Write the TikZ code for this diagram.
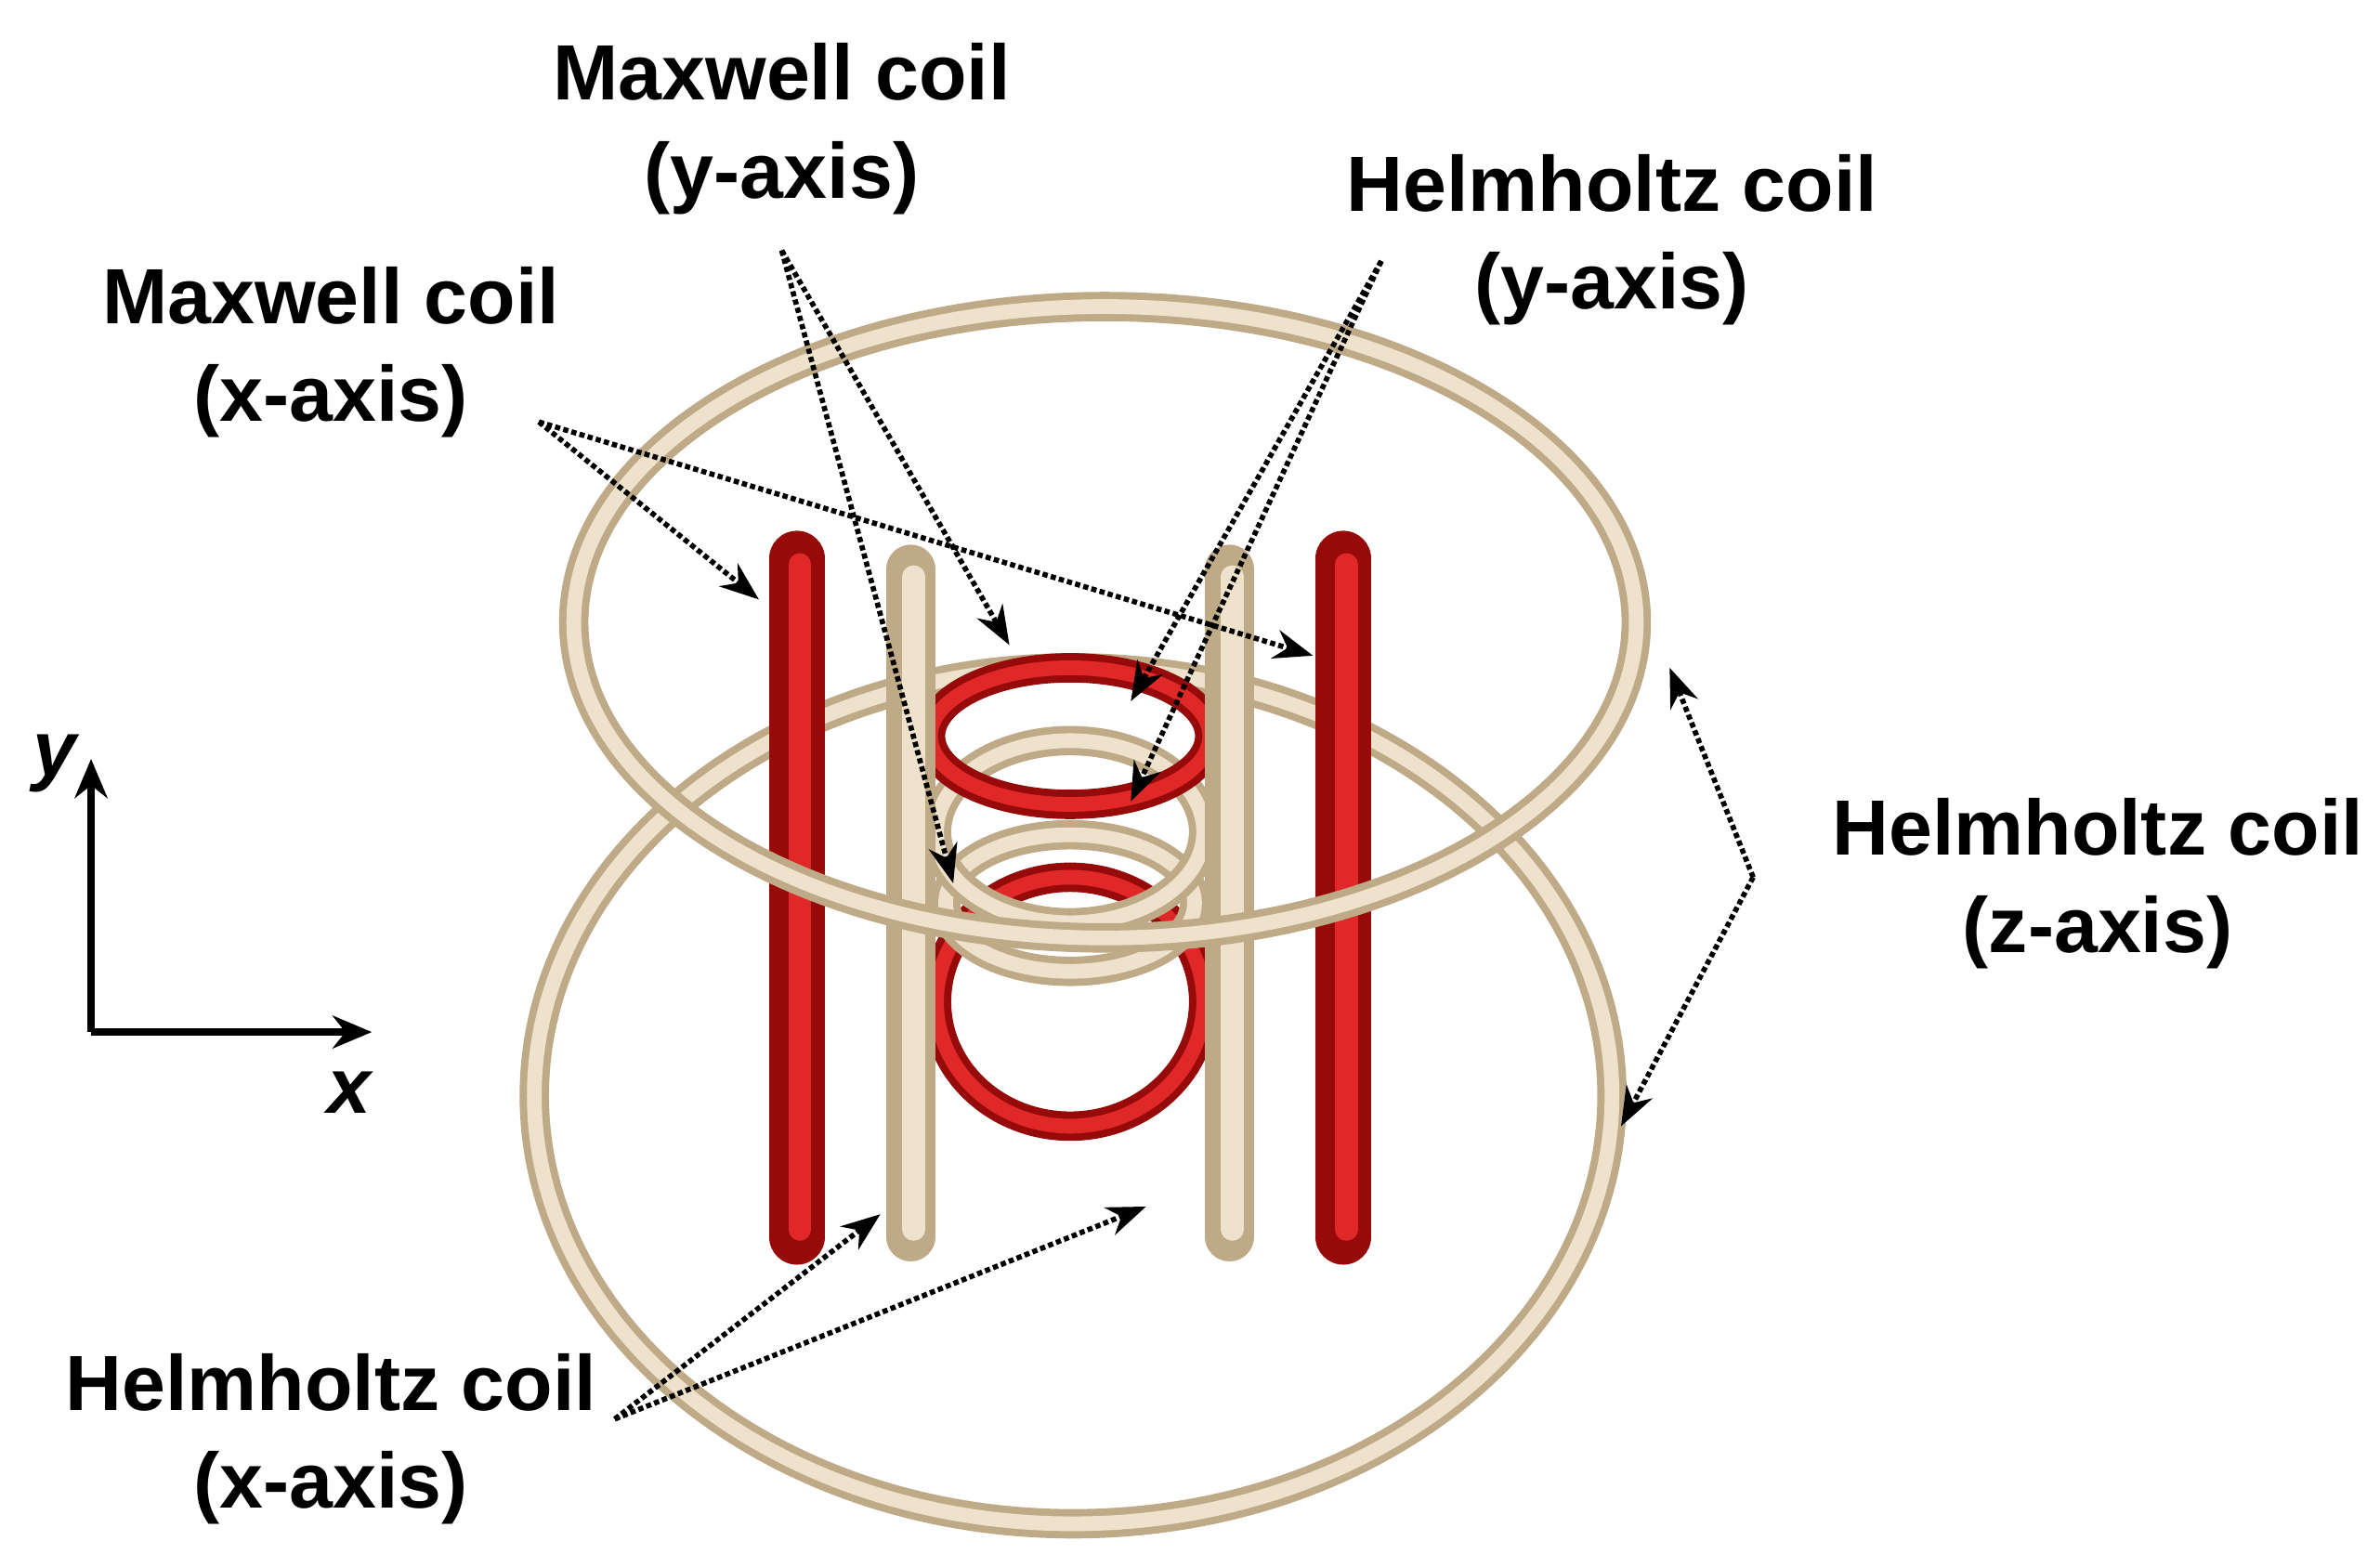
\documentclass[tikz,border=0pt]{standalone}
\usepackage{fontspec}
\setmainfont{Liberation Sans}
\usetikzlibrary{arrows.meta}
\definecolor{beigeD}{RGB}{190,170,135}
\definecolor{beigeL}{RGB}{238,226,205}
\definecolor{redD}{RGB}{150,10,10}
\definecolor{redL}{RGB}{225,40,40}
\tikzset{
 bt/.style={draw=beigeD,line width=9pt},
 bl/.style={draw=beigeL,line width=4.5pt},
 rt/.style={draw=redD,line width=9pt},
 rl/.style={draw=redL,line width=4.5pt},
 lbl/.style={font=\fontsize{24}{30}\selectfont\bfseries,align=center},
 dot/.style={densely dotted,line width=1.6pt,-{Stealth[length=12pt,width=9pt]}},
 ax/.style={line width=2.4pt,-{Stealth[length=12pt,width=10pt]}}
}
\begin{document}
\begin{tikzpicture}[x=0.01634cm,y=-0.01634cm]
\useasboundingbox (0,0) rectangle (1568,1032);
% bottom big ring
\draw[bt] (707,722) ellipse [x radius=355, y radius=282];
\draw[bl] (707,722) ellipse [x radius=355, y radius=282];
% small rings
\draw[rt] (705,660) ellipse [x radius=88, y radius=82];
\draw[rl] (705,660) ellipse [x radius=88, y radius=82];
\draw[bt] (705,595) ellipse [x radius=82, y radius=45];
\draw[bl] (705,595) ellipse [x radius=82, y radius=45];
\draw[bt] (705,548) ellipse [x radius=88, y radius=60];
\draw[bl] (705,548) ellipse [x radius=88, y radius=60];
\draw[rt] (705,485) ellipse [x radius=92, y radius=45];
\draw[rl] (705,485) ellipse [x radius=92, y radius=45];
% vertical coils
\foreach \x in {525,885}{
 \draw[redD,line width=17pt,line cap=round] (\x,368) -- (\x,815);
 \draw[redL,line width=7pt,line cap=round] (\x+2,372) -- (\x+2,810);}
\foreach \x in {600,810}{
 \draw[beigeD,line width=15pt,line cap=round] (\x,375) -- (\x,815);
 \draw[beigeL,line width=7pt,line cap=round] (\x+2,380) -- (\x+2,810);}
% top big ring
\draw[bt] (728,410) ellipse [x radius=350, y radius=208];
\draw[bl] (728,410) ellipse [x radius=350, y radius=208];
% labels
\node[lbl] (my) at (515,85) {Maxwell coil\\(y-axis)};
\node[lbl] (hy) at (1062,158) {Helmholtz coil\\(y-axis)};
\node[lbl] (mx) at (218,232) {Maxwell coil\\(x-axis)};
\node[lbl] (hz) at (1382,582) {Helmholtz coil\\(z-axis)};
\node[lbl] (hx) at (218,948) {Helmholtz coil\\(x-axis)};
\coordinate (myS) at (515,165); \coordinate (myA) at (665,425); \coordinate (myB) at (628,582);
\coordinate (hyS) at (910,172); \coordinate (hyA) at (745,462); \coordinate (hyB) at (745,528);
\coordinate (mxS) at (355,278); \coordinate (mxA) at (500,395); \coordinate (mxB) at (865,432);
\coordinate (hzS) at (1155,578); \coordinate (hzA) at (1100,440); \coordinate (hzB) at (1068,742);
\coordinate (hxS) at (405,935); \coordinate (hxA) at (580,800); \coordinate (hxB) at (755,795);
\foreach \s/\t in {myS/myA,myS/myB,hyS/hyA,hyS/hyB,mxS/mxA,mxS/mxB,hzS/hzA,hzS/hzB,hxS/hxA,hxS/hxB}
 \draw[dot] (\s) -- (\t);
% axes
\coordinate (o) at (60,680);
\coordinate (ye) at (60,500);
\coordinate (xe) at (245,680);
\draw[ax] (o) -- (ye);
\draw[ax] (o) -- (xe);
\node[font=\fontsize{24}{28}\selectfont\itshape\bfseries] (yl) at (36,503) {y};
\node[font=\fontsize{24}{28}\selectfont\itshape\bfseries] (xl) at (230,720) {x};
\end{tikzpicture}
\end{document}
